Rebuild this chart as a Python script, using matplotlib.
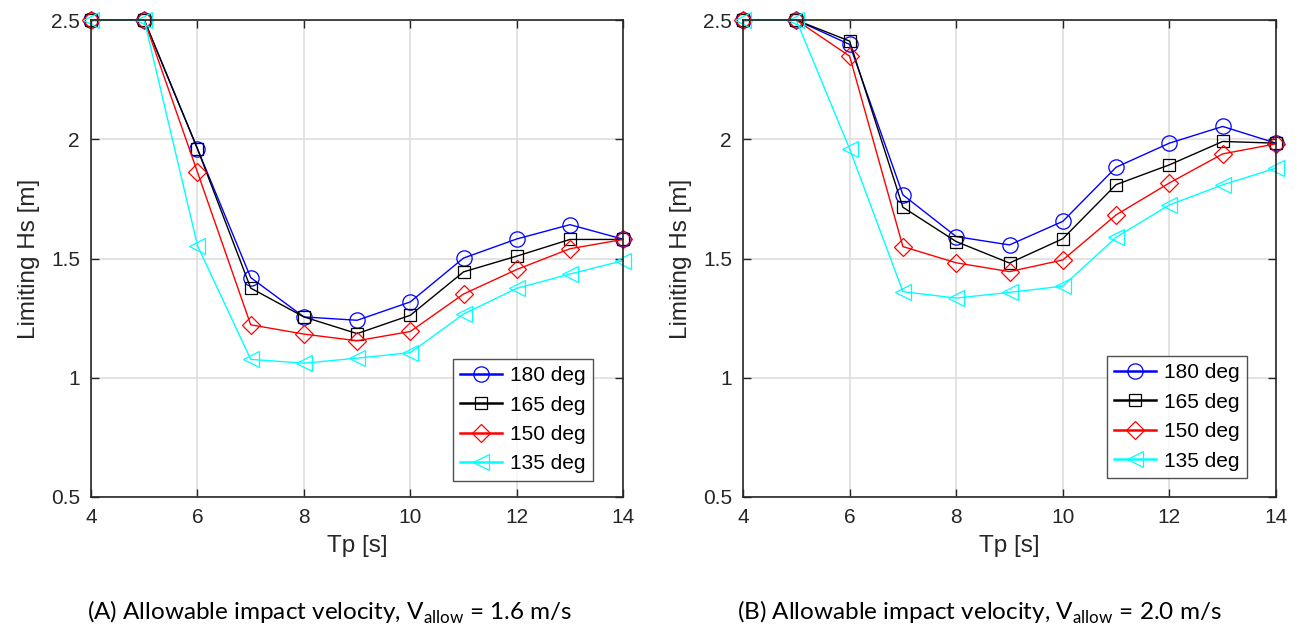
import numpy as np
import matplotlib.pyplot as plt

tp = [4, 5, 6, 7, 8, 9, 10, 11, 12, 13, 14]
labels = ['180 deg', '165 deg', '150 deg', '135 deg']

# (A) V_allow = 1.6 m/s
hs_a_180 = [2.5, 2.5, 1.96, 1.42, 1.255, 1.241, 1.318, 1.502, 1.582, 1.642, 1.581]
hs_a_165 = [2.5, 2.5, 1.96, 1.376, 1.255, 1.185, 1.262, 1.444, 1.51, 1.58, 1.58]
hs_a_150 = [2.5, 2.5, 1.862, 1.222, 1.183, 1.155, 1.194, 1.351, 1.454, 1.541, 1.58]
hs_a_135 = [2.5, 2.5, 1.554, 1.077, 1.061, 1.082, 1.105, 1.267, 1.375, 1.435, 1.491]

# (B) V_allow = 2.0 m/s
hs_b_180 = [2.5, 2.5, 2.398, 1.767, 1.592, 1.557, 1.656, 1.883, 1.984, 2.054, 1.984]
hs_b_165 = [2.5, 2.5, 2.412, 1.715, 1.571, 1.481, 1.583, 1.810, 1.893, 1.991, 1.984]
hs_b_150 = [2.5, 2.5, 2.349, 1.550, 1.482, 1.445, 1.494, 1.683, 1.817, 1.939, 1.981]
hs_b_135 = [2.5, 2.5, 1.960, 1.361, 1.334, 1.358, 1.384, 1.589, 1.725, 1.809, 1.879]

captions = ['(A) Allowable impact velocity, V$_{\\mathregular{allow}}$ = 1.6 m/s',
            '(B) Allowable impact velocity, V$_{\\mathregular{allow}}$ = 2.0 m/s']

colors = ['#0000ff', '#000000', '#ff0000', '#00ffff']
markers = ['o', 's', 'D', '<']
msizes = [11, 8, 9, 11]

plt.rcParams['font.family'] = ['Liberation Sans', 'DejaVu Sans']

fig = plt.figure(figsize=(13.01, 6.29), dpi=100)
ax1 = fig.add_axes([0.0700, 0.210, 0.4090, 0.758])
ax2 = fig.add_axes([0.5711, 0.210, 0.4097, 0.758])

data = [[hs_a_180, hs_a_165, hs_a_150, hs_a_135],
        [hs_b_180, hs_b_165, hs_b_150, hs_b_135]]
leg_anchor = [(0.944, 0.034), (0.946, 0.040)]
cap_x = [330 / 1301, 979 / 1301]

for ax, series, cap, anc, cx in zip([ax1, ax2], data, captions, leg_anchor, cap_x):
    for ys, c, m, ms, lab in zip(series, colors, markers, msizes, labels):
        ax.plot(tp, ys, color=c, marker=m, markersize=ms, markerfacecolor='none',
                markeredgewidth=0.9, linewidth=1.0, label=lab, clip_on=False)
    ax.set_xlim(4, 14)
    ax.set_ylim(0.5, 2.5)
    ax.set_xticks([4, 6, 8, 10, 12, 14])
    ax.set_yticks([0.5, 1, 1.5, 2, 2.5])
    ax.set_yticklabels(['0.5', '1', '1.5', '2', '2.5'])
    ax.grid(True, color='#dedede', linewidth=1.2)
    ax.set_axisbelow(True)
    ax.tick_params(direction='in', top=True, right=True, labelsize=15,
                   length=6, width=1, colors='#262626', pad=8)
    for sp in ax.spines.values():
        sp.set_color('#262626')
        sp.set_linewidth(1.2)
    ax.set_xlabel('Tp [s]', fontsize=17.5, color='#262626', labelpad=6)
    ax.set_ylabel('Limiting Hs [m]', fontsize=17.5, color='#262626', labelpad=8)
    leg = ax.legend(loc='lower right', fontsize=15, frameon=True, fancybox=False,
                    edgecolor='#262626', handlelength=2.0, borderpad=0.35,
                    labelspacing=0.5, handletextpad=0.4, borderaxespad=0,
                    bbox_to_anchor=anc)
    leg.get_frame().set_linewidth(1.0)
    for h in leg.get_lines():
        h.set_linewidth(1.8)
    fig.text(cx, 1 - 612 / 629, cap, ha='center', va='center',
             fontsize=17.5, family=['Lato', 'DejaVu Sans'])

fig.savefig('out.png', dpi=100)
